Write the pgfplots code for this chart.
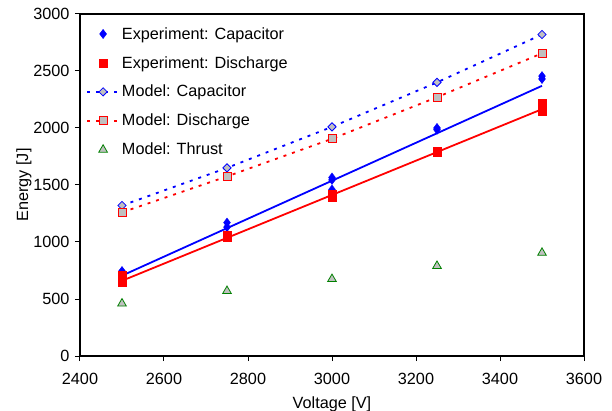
\documentclass[border=0pt]{standalone}
\usepackage{pgfplots}
\pgfplotsset{compat=1.18}
\usepackage{fontspec}
\setmainfont{Liberation Sans}
\definecolor{mgray}{RGB}{192,192,192}
\definecolor{mgreen}{RGB}{0,128,0}
\begin{document}
\begin{tikzpicture}
\begin{axis}[
  scale only axis,
  width=504bp, height=342bp,
  xmin=2400, xmax=3600, ymin=0, ymax=3000,
  xtick={2400,2600,...,3600}, ytick={0,500,...,3000},
  tick align=outside, major tick length=5bp,
  xtick pos=bottom, ytick pos=left,
  axis line style={line width=1.3bp},
  tick style={line width=1bp, black},
  scaled ticks=false,
  /pgf/number format/assume math mode=true,
  /pgf/number format/set thousands separator={},
  ticklabel style={font=\fontsize{16.3}{19}\selectfont},
  xticklabel style={yshift=-9bp},
  yticklabel style={xshift=-2bp},
  xlabel={Voltage [V]}, ylabel={Energy [J]},
  label style={font=\fontsize{16.3}{19}\selectfont},
  xlabel style={yshift=-5bp},
  ylabel style={yshift=-5bp},
  legend image code/.code={\draw[mark repeat=2,mark phase=2,#1] plot coordinates {(0bp,0bp) (16bp,0bp) (32bp,0bp)};},
  legend style={draw=none, fill=none, at={(0.0,0.985)}, anchor=north west,
     font=\fontsize{16.3}{19}\selectfont, row sep=11.7bp, inner sep=6bp,
     cells={anchor=west}},
]
% Experiment: Capacitor
\addplot[only marks, mark=diamond*, mark size=4.6bp, blue] coordinates {
 (2500,745) (2500,725) (2750,1170) (2750,1130) (3000,1565) (3000,1545) (3000,1460)
 (3250,2000) (3250,1985) (3500,2455) (3500,2430)};
\addlegendentry{Experiment: Capacitor}
% Experiment: Discharge
\addplot[only marks, mark=square*, mark size=4bp, red] coordinates {
 (2500,710) (2500,680) (2500,650) (2750,1060) (2750,1040) (3000,1420) (3000,1390)
 (3250,1800) (3250,1785) (3500,2215) (3500,2180) (3500,2150)};
\addlegendentry{Experiment: Discharge}
% Model: Capacitor
\addplot[blue, line width=1.8bp, dash pattern=on 3bp off 6bp, mark=square*, mark size=2.9bp,
  mark options={solid, rotate=45, fill=mgray, draw=blue, line width=0.8bp}] coordinates {
 (2500,1320) (2750,1650) (3000,2010) (3250,2400) (3500,2820)};
\addlegendentry{Model: Capacitor}
% Model: Discharge
\addplot[red, line width=1.8bp, dash pattern=on 3bp off 6bp, mark=square*, mark size=4bp,
  mark options={solid, fill=mgray, draw=red, line width=0.8bp}] coordinates {
 (2500,1260) (2750,1575) (3000,1905) (3250,2270) (3500,2655)};
\addlegendentry{Model: Discharge}
% Model: Thrust
\addplot[only marks, mark=triangle*, mark size=5bp,
  mark options={fill=mgray, draw=mgreen, line width=0.8bp}] coordinates {
 (2500,460) (2750,570) (3000,675) (3250,790) (3500,905)};
\addlegendentry{Model: Thrust}
% trend lines
\addplot[blue, line width=1.8bp, forget plot] coordinates {(2500,705) (3500,2370)};
\addplot[red, line width=1.8bp, forget plot] coordinates {(2500,660) (3500,2165)};
\end{axis}
\pgfresetboundingbox
\path ([xshift=-80bp,yshift=-55bp]current axis.south west) rectangle ++(612bp,411bp);
\end{tikzpicture}
\end{document}
